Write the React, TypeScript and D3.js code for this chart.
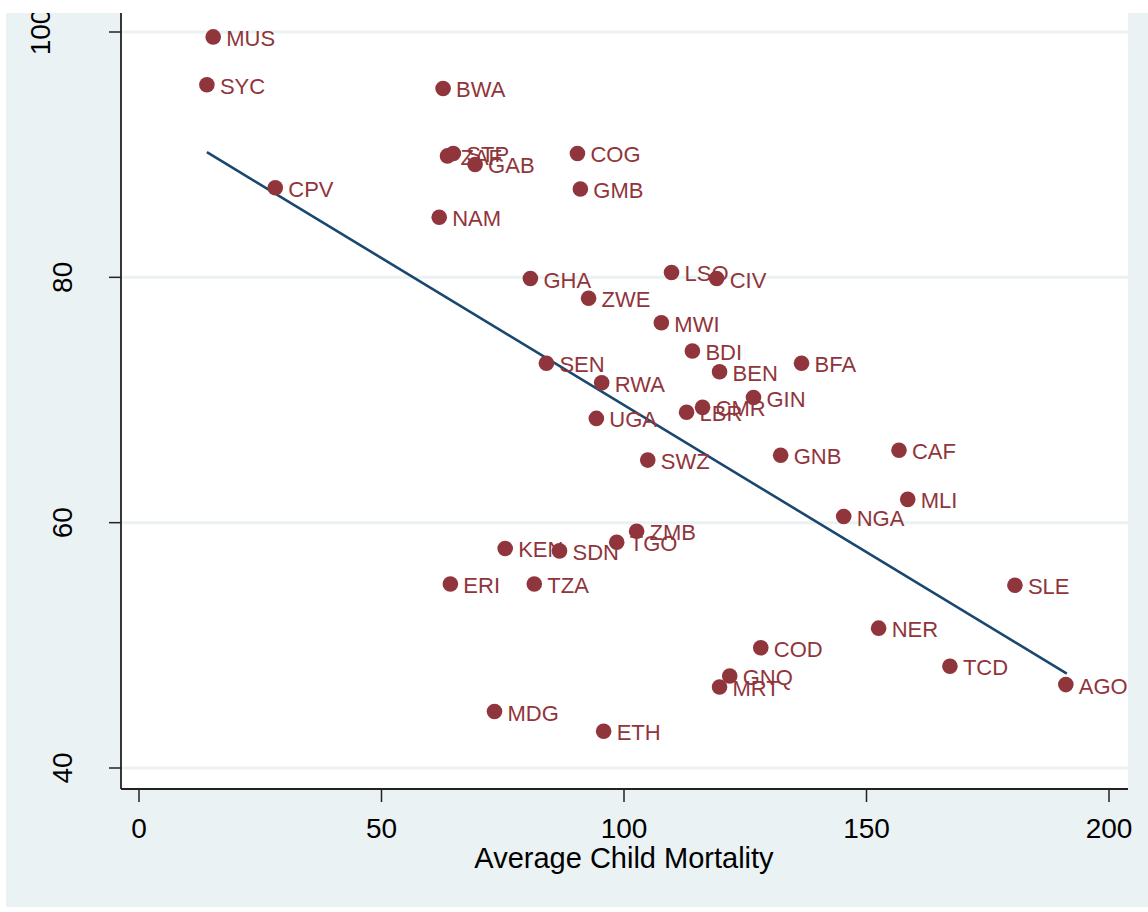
import React from "react";
import * as d3 from "d3";

const countries = ["MUS","SYC","BWA","ZAF","STP","GAB","COG","GMB","CPV","NAM","GHA","LSO","CIV","ZWE","MWI","BDI","SEN","BFA","BEN","RWA","GIN","CMR","LBR","UGA","CAF","GNB","SWZ","MLI","NGA","ZMB","TGO","KEN","SDN","ERI","TZA","SLE","NER","COD","TCD","GNQ","MRT","AGO","MDG","ETH"];
const childMortality = [15.3,14.0,62.7,63.6,64.8,69.3,90.4,91.0,28.1,61.9,80.7,109.8,119.1,92.7,107.7,114.1,84.0,136.6,119.7,95.4,126.7,116.2,112.9,94.3,156.7,132.3,104.9,158.5,145.3,102.6,98.5,75.5,86.7,64.2,81.5,180.6,152.5,128.2,167.2,121.8,119.7,191.1,73.3,95.8];
const yValues = [99.6,95.7,95.4,89.9,90.1,89.2,90.1,87.2,87.3,84.9,79.9,80.4,79.9,78.3,76.3,74.0,73.0,73.0,72.3,71.4,70.2,69.4,69.0,68.5,65.9,65.5,65.1,61.9,60.5,59.3,58.4,57.9,57.7,55.0,55.0,54.9,51.4,49.8,48.3,47.5,46.6,46.8,44.6,43.0];
const fitX = [14.0, 191.3];
const fitY = [90.2, 47.7];
const xTicks = [0, 50, 100, 150, 200];
const yTicks = [40, 60, 80, 100];

const BG = "#EAF2F3";
const MARKER = "#90353B";
const LINE = "#1A476F";
const FONT = "'Liberation Sans', Arial, Helvetica, sans-serif";

export default function App() {
  const W = 1148, H = 912;
  const plotL = 121, plotR = 1128, plotT = 13, plotB = 789;
  const x = d3.scaleLinear().domain([0, 200]).range([139, 1109]);
  const y = d3.scaleLinear().domain([40, 100]).range([768, 32]);
  const line = d3.line<[number, number]>().x(d => x(d[0])).y(d => y(d[1]));
  const fitPts: [number, number][] = fitX.map((v, i) => [v, fitY[i]]);

  return (
    <svg width={W} height={H} style={{ position: "absolute", left: 0, top: 0 }} fontFamily={FONT}>
      <rect x={0} y={0} width={W} height={H} fill="#fff" />
      <rect x={6} y={13} width={W - 6} height={907 - 13} fill={BG} />
      <rect x={plotL} y={plotT} width={plotR - plotL} height={plotB - plotT} fill="#fff" />
      {yTicks.map(t => (
        <line key={"g" + t} x1={plotL} x2={plotR} y1={y(t)} y2={y(t)} stroke={BG} strokeWidth={3} />
      ))}
      <path d={line(fitPts) || ""} fill="none" stroke={LINE} strokeWidth={2.6} />
      {countries.map((c, i) => (
        <g key={c}>
          <circle cx={x(childMortality[i])} cy={y(yValues[i])} r={7.8} fill={MARKER} />
          <text x={x(childMortality[i]) + 13} y={y(yValues[i]) + 9} fontSize={22} fill={MARKER}>{c}</text>
        </g>
      ))}
      <line x1={plotL} x2={plotL} y1={plotT} y2={plotB} stroke="#222" strokeWidth={1.8} />
      <line x1={plotL} x2={plotR} y1={plotB} y2={plotB} stroke="#222" strokeWidth={1.8} />
      {xTicks.map(t => (
        <g key={"x" + t}>
          <line x1={x(t)} x2={x(t)} y1={plotB} y2={802} stroke="#222" strokeWidth={1.5} />
          <text x={x(t)} y={838} fontSize={28} textAnchor="middle" fill="#000">{t}</text>
        </g>
      ))}
      {yTicks.map(t => (
        <g key={"y" + t}>
          <line x1={109} x2={plotL} y1={y(t)} y2={y(t)} stroke="#222" strokeWidth={1.5} />
          <text transform={`translate(${t === 100 ? 50 : 72},${y(t)}) rotate(-90)`} fontSize={28} textAnchor="middle" fill="#000">{t}</text>
        </g>
      ))}
      <text x={624} y={868} fontSize={29} textAnchor="middle" fill="#000">Average Child Mortality</text>
      <rect x={0} y={0} width={W} height={13} fill="#fff" />
      <rect x={0} y={0} width={6} height={H} fill="#fff" />
    </svg>
  );
}
